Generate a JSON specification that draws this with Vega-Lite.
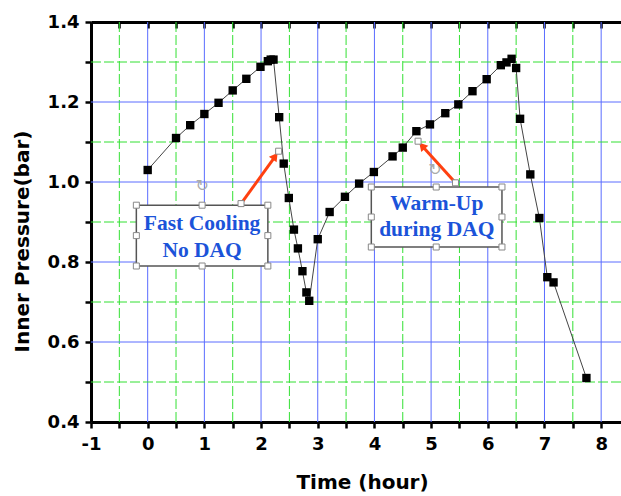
{
  "$schema": "https://vega.github.io/schema/vega-lite/v6.json",
  "width": 530,
  "height": 400,
  "autosize": "none",
  "padding": {"left": 91, "top": 22, "right": 0, "bottom": 74},
  "background": "white",
  "config": {"view": {"stroke": null}},
  "datasets": {
    "pts": [
      {"t": 0.0, "p": 1.03}, {"t": 0.5, "p": 1.11}, {"t": 0.75, "p": 1.142}, {"t": 1.0, "p": 1.17},
      {"t": 1.25, "p": 1.198}, {"t": 1.5, "p": 1.229}, {"t": 1.74, "p": 1.258}, {"t": 1.99, "p": 1.288},
      {"t": 2.12, "p": 1.302}, {"t": 2.17, "p": 1.306}, {"t": 2.22, "p": 1.306}, {"t": 2.32, "p": 1.162},
      {"t": 2.4, "p": 1.046}, {"t": 2.49, "p": 0.96}, {"t": 2.58, "p": 0.881}, {"t": 2.65, "p": 0.834},
      {"t": 2.73, "p": 0.777}, {"t": 2.8, "p": 0.724}, {"t": 2.85, "p": 0.703}, {"t": 3.0, "p": 0.857},
      {"t": 3.21, "p": 0.925}, {"t": 3.48, "p": 0.963}, {"t": 3.73, "p": 0.996}, {"t": 3.99, "p": 1.025},
      {"t": 4.32, "p": 1.064}, {"t": 4.5, "p": 1.086}, {"t": 4.74, "p": 1.127}, {"t": 4.98, "p": 1.144},
      {"t": 5.25, "p": 1.172}, {"t": 5.48, "p": 1.194}, {"t": 5.73, "p": 1.227}, {"t": 5.98, "p": 1.257},
      {"t": 6.23, "p": 1.292}, {"t": 6.33, "p": 1.299}, {"t": 6.42, "p": 1.308}, {"t": 6.5, "p": 1.285},
      {"t": 6.57, "p": 1.158}, {"t": 6.75, "p": 1.019}, {"t": 6.91, "p": 0.91}, {"t": 7.05, "p": 0.762},
      {"t": 7.16, "p": 0.749}, {"t": 7.74, "p": 0.51}
    ],
    "vmaj": [{"g": 0}, {"g": 1}, {"g": 2}, {"g": 3}, {"g": 4}, {"g": 5}, {"g": 6}, {"g": 7}, {"g": 8}],
    "vmin": [{"g": -0.5}, {"g": 0.5}, {"g": 1.5}, {"g": 2.5}, {"g": 3.5}, {"g": 4.5}, {"g": 5.5}, {"g": 6.5}, {"g": 7.5}],
    "hmaj": [{"g": 0.6}, {"g": 0.8}, {"g": 1.0}, {"g": 1.2}],
    "hmin": [{"g": 0.5}, {"g": 0.7}, {"g": 0.9}, {"g": 1.1}, {"g": 1.3}],
    "boxes": [
      {"x1": -0.2, "x2": 2.12, "y1": 0.79, "y2": 0.942},
      {"x1": 3.945, "x2": 6.25, "y1": 0.8375, "y2": 0.9875}
    ],
    "arrows": [
      {"x1": 1.647, "y1": 0.946, "x2": 2.26, "y2": 1.066},
      {"x1": 5.43, "y1": 0.998, "x2": 4.83, "y2": 1.092}
    ],
    "heads": [
      {"x": 2.249, "y": 1.0645, "a": 36},
      {"x": 4.84, "y": 1.0905, "a": -42}
    ],
    "handles": [
      {"x": -0.2, "y": 0.942}, {"x": 0.96, "y": 0.942}, {"x": 2.12, "y": 0.942},
      {"x": -0.2, "y": 0.866}, {"x": 2.12, "y": 0.866},
      {"x": -0.2, "y": 0.79}, {"x": 0.96, "y": 0.79}, {"x": 2.12, "y": 0.79},
      {"x": 1.647, "y": 0.946}, {"x": 2.31, "y": 1.077},
      {"x": 3.945, "y": 0.9875}, {"x": 5.09, "y": 0.9875}, {"x": 6.25, "y": 0.9875},
      {"x": 3.945, "y": 0.9125}, {"x": 6.25, "y": 0.9125},
      {"x": 3.945, "y": 0.8375}, {"x": 5.09, "y": 0.8375}, {"x": 6.25, "y": 0.8375},
      {"x": 5.43, "y": 0.998}, {"x": 4.77, "y": 1.102}
    ],
    "labels": [
      {"x": 0.96, "y": 0.894, "txt": "Fast Cooling"},
      {"x": 0.96, "y": 0.828, "txt": "No DAQ"},
      {"x": 5.1, "y": 0.944, "txt": "Warm-Up"},
      {"x": 5.1, "y": 0.879, "txt": "during DAQ"}
    ],
    "icons": [
      {"x": 0.96, "y": 0.99, "txt": "↻"},
      {"x": 5.07, "y": 1.031, "txt": "↻"}
    ]
  },
  "layer": [
    {
      "data": {"name": "vmin"},
      "mark": {"type": "rule", "color": "#33e033", "strokeWidth": 1, "strokeDash": [10, 3]},
      "encoding": {
        "x": {"field": "g", "type": "quantitative", "scale": {"domain": [-1, 8.35], "nice": false, "zero": false},
          "axis": {"orient": "top", "title": null, "labels": false, "values": [-1, -0.5, 0, 0.5, 1, 1.5, 2, 2.5, 3, 3.5, 4, 4.5, 5, 5.5, 6, 6.5, 7, 7.5, 8],
            "domainColor": "black", "domainWidth": 3, "tickColor": "black", "tickWidth": 2.5, "tickSize": -6, "grid": false}}
      }
    },
    {
      "data": {"name": "vmaj"},
      "mark": {"type": "rule", "color": "#5a6cff", "strokeWidth": 1},
      "encoding": {"x": {"field": "g", "type": "quantitative", "axis": null}}
    },
    {
      "data": {"name": "hmin"},
      "mark": {"type": "rule", "color": "#33e033", "strokeWidth": 1, "strokeDash": [10, 3]},
      "encoding": {"y": {"field": "g", "type": "quantitative", "scale": {"domain": [0.4, 1.4], "nice": false, "zero": false}, "axis": null}}
    },
    {
      "data": {"name": "hmaj"},
      "mark": {"type": "rule", "color": "#5a6cff", "strokeWidth": 1},
      "encoding": {"y": {"field": "g", "type": "quantitative", "axis": null}}
    },
    {
      "data": {"name": "pts"},
      "mark": {"type": "line", "color": "#444444", "strokeWidth": 1},
      "encoding": {
        "x": {"field": "t", "type": "quantitative", "title": "Time (hour)",
          "axis": {"orient": "bottom", "values": [-1, -0.5, 0, 0.5, 1, 1.5, 2, 2.5, 3, 3.5, 4, 4.5, 5, 5.5, 6, 6.5, 7, 7.5, 8],
            "labelExpr": "datum.value % 1 == 0 ? toString(datum.value) : ''",
            "domainColor": "black", "domainWidth": 3, "tickColor": "black", "tickWidth": 2.5, "tickSize": 6,
            "grid": false, "labelFont": "DejaVu Sans", "labelFontWeight": "bold", "labelFontSize": 18, "labelColor": "black",
            "labelPadding": 7, "titleFont": "DejaVu Sans", "titleFontWeight": "bold", "titleFontSize": 20, "titleColor": "black",
            "titlePadding": 19, "titleX": 271, "titleAlign": "center", "labelFlush": false, "labelOverlap": false}},
        "y": {"field": "p", "type": "quantitative", "title": "Inner Pressure(bar)",
          "axis": {"orient": "left", "values": [0.4, 0.5, 0.6, 0.7, 0.8, 0.9, 1.0, 1.1, 1.2, 1.3, 1.4],
            "labelExpr": "round(datum.value * 10) % 2 == 0 ? format(datum.value, '.1f') : ''",
            "domainColor": "black", "domainWidth": 3, "tickColor": "black", "tickWidth": 2.5, "tickSize": 6,
            "grid": false, "labelFont": "DejaVu Sans", "labelFontWeight": "bold", "labelFontSize": 18, "labelColor": "black",
            "labelPadding": 6, "titleFont": "DejaVu Sans", "titleFontWeight": "bold", "titleFontSize": 20, "titleColor": "black",
            "titlePadding": 15, "titleY": 219, "titleAlign": "center", "labelFlush": false, "labelOverlap": false}}
      }
    },
    {
      "data": {"name": "pts"},
      "mark": {"type": "point", "shape": "square", "filled": true, "color": "black", "size": 70, "opacity": 1},
      "encoding": {
        "x": {"field": "t", "type": "quantitative", "axis": null},
        "y": {"field": "p", "type": "quantitative", "axis": null}
      }
    },
    {
      "data": {"name": "boxes"},
      "mark": {"type": "rect", "fill": "white", "stroke": "#555555", "strokeWidth": 1.5},
      "encoding": {
        "x": {"field": "x1", "type": "quantitative", "axis": null},
        "x2": {"field": "x2"},
        "y": {"field": "y1", "type": "quantitative", "axis": null},
        "y2": {"field": "y2"}
      }
    },
    {
      "data": {"name": "arrows"},
      "mark": {"type": "rule", "color": "#ff4010", "strokeWidth": 3},
      "encoding": {
        "x": {"field": "x1", "type": "quantitative", "axis": null},
        "x2": {"field": "x2"},
        "y": {"field": "y1", "type": "quantitative", "axis": null},
        "y2": {"field": "y2"}
      }
    },
    {
      "data": {"name": "heads"},
      "mark": {"type": "point", "shape": "triangle-up", "filled": true, "color": "#ff4010", "size": 90, "opacity": 1},
      "encoding": {
        "x": {"field": "x", "type": "quantitative", "axis": null},
        "y": {"field": "y", "type": "quantitative", "axis": null},
        "angle": {"field": "a", "type": "quantitative", "scale": null}
      }
    },
    {
      "data": {"name": "handles"},
      "mark": {"type": "point", "shape": "square", "filled": true, "fill": "white", "stroke": "#888888", "strokeWidth": 1, "size": 36, "opacity": 1},
      "encoding": {
        "x": {"field": "x", "type": "quantitative", "axis": null},
        "y": {"field": "y", "type": "quantitative", "axis": null}
      }
    },
    {
      "data": {"name": "labels"},
      "mark": {"type": "text", "font": "Liberation Serif", "fontWeight": "bold", "fontSize": 21.5, "color": "#1b53d9", "align": "center", "baseline": "middle"},
      "encoding": {
        "x": {"field": "x", "type": "quantitative", "axis": null},
        "y": {"field": "y", "type": "quantitative", "axis": null},
        "text": {"field": "txt"}
      }
    },
    {
      "data": {"name": "icons"},
      "mark": {"type": "text", "font": "DejaVu Sans", "fontSize": 16, "color": "#aaaaaa", "align": "center", "baseline": "middle"},
      "encoding": {
        "x": {"field": "x", "type": "quantitative", "axis": null},
        "y": {"field": "y", "type": "quantitative", "axis": null},
        "text": {"field": "txt"}
      }
    }
  ],
  "resolve": {"axis": {"x": "independent", "y": "independent"}}
}
